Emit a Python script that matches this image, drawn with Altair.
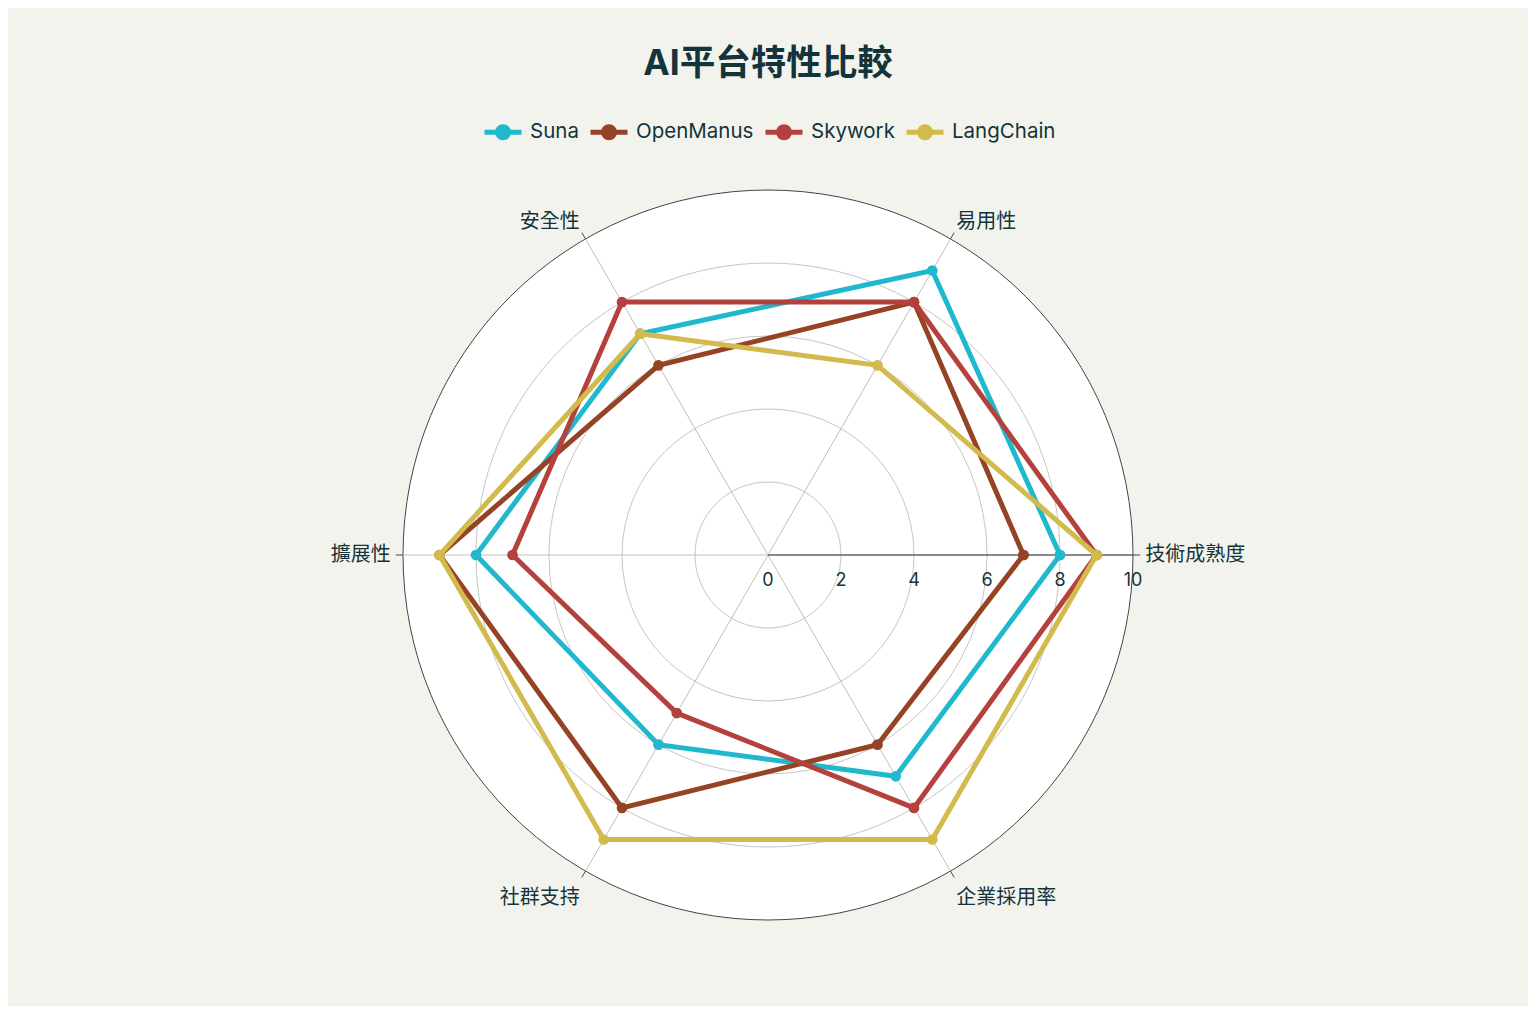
import math
import altair as alt
import pandas as pd

categories = ["技術成熟度", "易用性", "安全性", "擴展性", "社群支持", "企業採用率"]
series_names = ["Suna", "OpenManus", "Skywork", "LangChain"]
suna = [8, 9, 7, 8, 6, 7]
openmanus = [7, 8, 6, 9, 8, 6]
skywork = [9, 8, 8, 7, 5, 8]
langchain = [9, 6, 7, 9, 9, 9]
colors = ["#1FB8CD", "#964325", "#B4413C", "#D2BA4C"]
radial_ticks = [0, 2, 4, 6, 8, 10]
grid_levels = [2, 4, 6, 8]
r_max = 10

FONT = "Inter, Noto Sans CJK TC, sans-serif"
TXT = "#13343B"
N = len(categories)
STEP = 2 * math.pi / N

rows = []
for name, vals in zip(series_names, [suna, openmanus, skywork, langchain]):
    for k in range(N + 1):
        i = k % N
        rows.append({"series": name, "category": categories[i], "idx": i,
                     "order": k, "value": vals[i]})
df = pd.DataFrame(rows)
cat_df = pd.DataFrame({"category": categories, "idx": list(range(N))})

xs = alt.Scale(domain=[-r_max, r_max], nice=False, zero=False)
ys = alt.Scale(domain=[-r_max, r_max], nice=False, zero=False)
rscale = alt.Scale(type="linear", domain=[0, r_max], range=[0, 365], zero=True)
cscale = alt.Scale(domain=series_names, range=colors)

legend_symbol = ("M-1,0L1,0M-0.3,0A0.3,0.3,0,1,0,0.3,0"
                 "A0.3,0.3,0,1,0,-0.3,0Z")
legend = alt.Legend(orient="none", legendX=79, legendY=-79, direction="horizontal",
                    title=None, symbolType=legend_symbol, symbolSize=1369,
                    symbolStrokeWidth=5, labelFontSize=20.5, labelFont=FONT,
                    labelColor=TXT, labelOffset=6, columnPadding=1)

ang = f"datum.idx * {STEP}"

disk = alt.Chart(pd.DataFrame({"r": [r_max]})).mark_arc(
    theta=0, theta2=6.2832, fill="white", stroke="#444444", strokeWidth=1
).encode(radius=alt.Radius("r:Q", scale=rscale, stack=False))

grid = alt.Chart(pd.DataFrame({"r": grid_levels})).mark_arc(
    theta=0, theta2=6.2832, filled=False, stroke="#c6c6c6", strokeWidth=1
).encode(radius=alt.Radius("r:Q", scale=rscale, stack=False))

spokes = alt.Chart(cat_df).transform_calculate(
    x0="0", y0="0",
    x1=f"{r_max} * cos({ang})", y1=f"{r_max} * sin({ang})"
).mark_rule(color="#c0c0c0", strokeWidth=1).encode(
    x=alt.X("x0:Q", scale=xs, axis=None), y=alt.Y("y0:Q", scale=ys, axis=None),
    x2="x1:Q", y2="y1:Q")

ticks = alt.Chart(cat_df).transform_calculate(
    x0=f"{r_max} * cos({ang})", y0=f"{r_max} * sin({ang})",
    x1=f"{r_max * 1.02} * cos({ang})", y1=f"{r_max * 1.02} * sin({ang})"
).mark_rule(color="#444444", strokeWidth=1).encode(
    x=alt.X("x0:Q", scale=xs, axis=None), y=alt.Y("y0:Q", scale=ys, axis=None),
    x2="x1:Q", y2="y1:Q")

raxis = alt.Chart(pd.DataFrame({"a": [0], "b": [r_max]})).transform_calculate(
    z="0").mark_rule(color="#333333", strokeWidth=1).encode(
    x=alt.X("a:Q", scale=xs, axis=None), x2="b:Q",
    y=alt.Y("z:Q", scale=ys, axis=None))

rlabels = alt.Chart(pd.DataFrame({"v": radial_ticks})).transform_calculate(
    z="0").mark_text(dy=26, fontSize=18, font=FONT, color=TXT, align="center",
                     baseline="middle").encode(
    x=alt.X("v:Q", scale=xs, axis=None), y=alt.Y("z:Q", scale=ys, axis=None),
    text="v:Q")

lab_base = alt.Chart(cat_df).transform_calculate(
    s=f"sin({ang})", c=f"cos({ang})"
).transform_calculate(
    lx=f"{r_max * 1.02} * datum.c - (abs(datum.s) > 0.1 ? 0.08 * (datum.c > 0 ? 1 : -1) : 0)",
    ly=f"{r_max * 1.02} * datum.s + (datum.s > 0.1 ? 0.28 : (datum.s < -0.1 ? -0.56 : 0))")
lab_left = lab_base.transform_filter("datum.c > 0").mark_text(
    align="left", baseline="middle", dx=5, fontSize=20, font=FONT, color=TXT
).encode(x=alt.X("lx:Q", scale=xs, axis=None), y=alt.Y("ly:Q", scale=ys, axis=None),
         text="category:N")
lab_right = lab_base.transform_filter("datum.c < 0").mark_text(
    align="right", baseline="middle", dx=-5, fontSize=20, font=FONT, color=TXT
).encode(x=alt.X("lx:Q", scale=xs, axis=None), y=alt.Y("ly:Q", scale=ys, axis=None),
         text="category:N")

layers = [disk, grid, spokes, raxis, ticks, rlabels, lab_left, lab_right]

base = alt.Chart(df).transform_calculate(
    x=f"datum.value * cos({ang})", y=f"datum.value * sin({ang})")
for name in series_names:
    sb = base.transform_filter(alt.datum.series == name)
    line = sb.mark_line(strokeWidth=5).encode(
        x=alt.X("x:Q", scale=xs, axis=None), y=alt.Y("y:Q", scale=ys, axis=None),
        order="order:Q",
        color=alt.Color("series:N", scale=cscale, sort=series_names, legend=legend))
    pts = sb.mark_circle(size=115, opacity=1).encode(
        x=alt.X("x:Q", scale=xs, axis=None), y=alt.Y("y:Q", scale=ys, axis=None),
        color=alt.Color("series:N", scale=cscale, sort=series_names, legend=legend))
    layers += [line, pts]

chart = alt.layer(*layers).properties(
    width=730, height=730,
    padding={"left": 395, "top": 182, "right": 395, "bottom": 86},
    autosize=alt.AutoSizeParams(type="none"),
    title=alt.TitleParams(text="AI平台特性比較", fontSize=35.5, fontWeight="bold",
                          color=TXT, font=FONT, anchor="middle", frame="group",
                          offset=29),
).configure(background="#F3F3EE").configure_view(stroke=None)

chart.save("out.html", embed_options={"renderer": "svg", "actions": False})
